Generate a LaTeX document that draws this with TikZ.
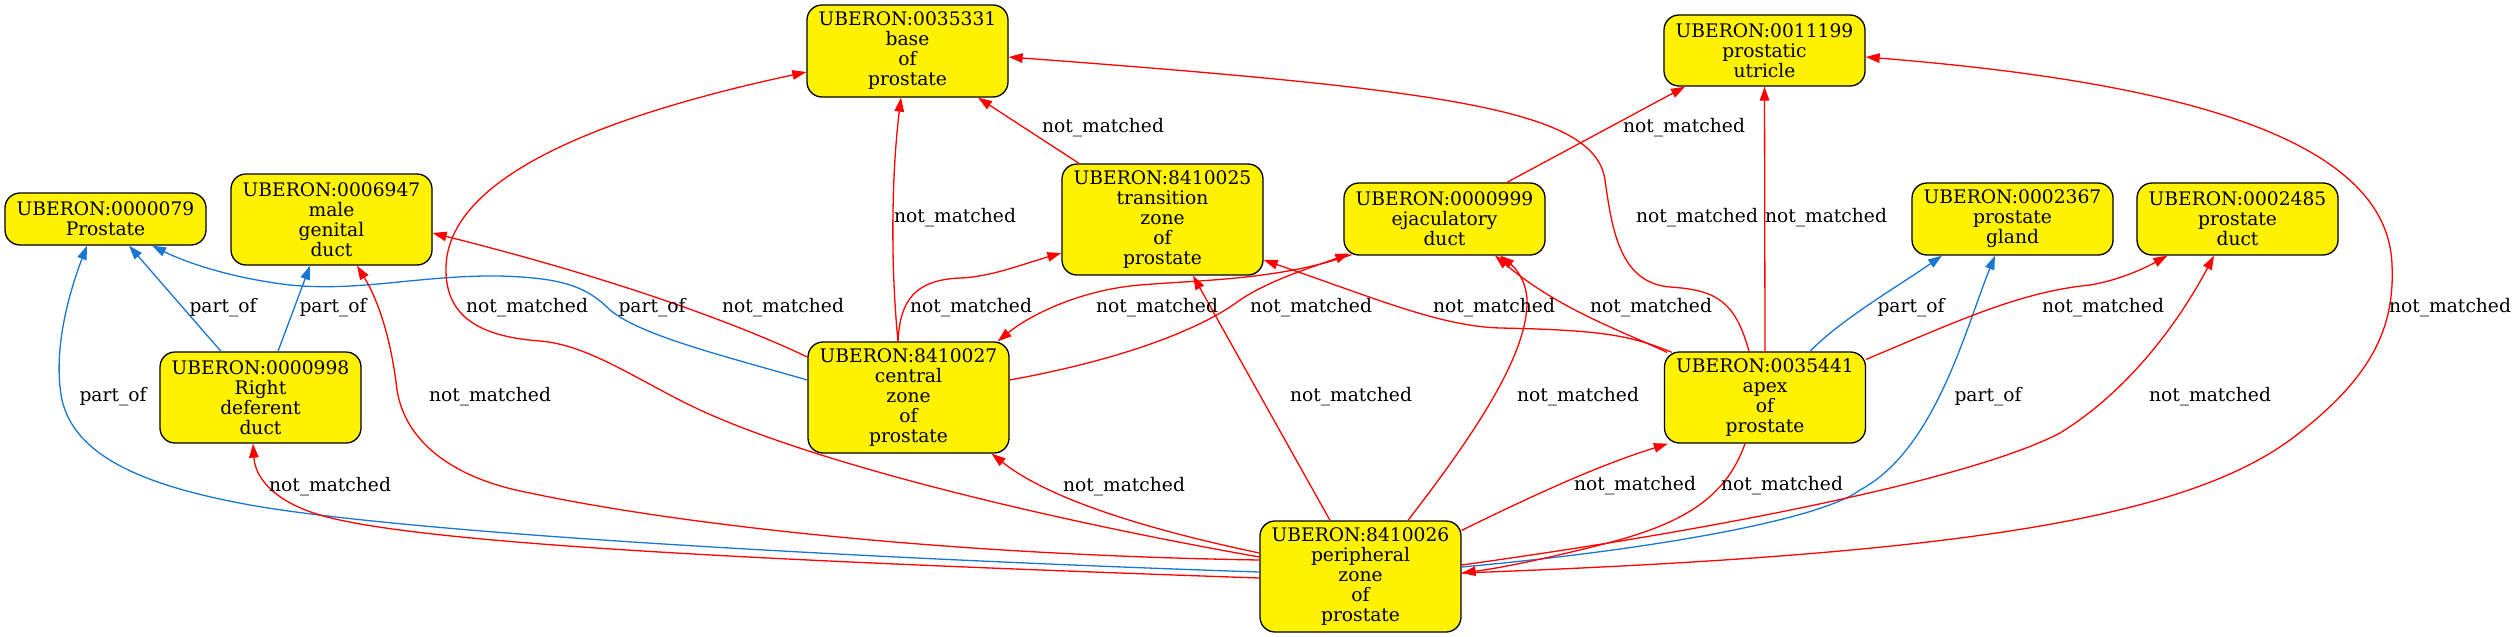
\documentclass[tikz,border=0pt]{standalone}
\usepackage{fontspec}
\setmainfont{DejaVu Serif}
\usetikzlibrary{arrows.meta}
\definecolor{edgeblue}{RGB}{25,118,210}
\begin{document}
\begin{tikzpicture}[x=1pt,y=-1pt,
  box/.style={draw=black, line width=1.3pt, fill=yellow, rounded corners=15pt,
    minimum width=201pt, align=center, inner sep=0pt,
    font=\fontsize{18.67}{20}\selectfont},
  lbl/.style={font=\fontsize{18.67}{20}\selectfont, inner sep=0pt},
  pedge/.style={draw=edgeblue, line width=1.3pt, -{Triangle[length=14pt,width=9.5pt]}},
  nedge/.style={draw=red, line width=1.3pt, -{Triangle[length=14pt,width=9.5pt]}}]
\useasboundingbox (0,0) rectangle (2517,637);

% nodes
\node[box, minimum height=52pt]  (n79)      at (105.5,219)   {UBERON:0000079\\Prostate};
\node[box, minimum height=91pt]  (n6947)    at (331.5,219.5) {UBERON:0006947\\male\\genital\\duct};
\node[box, minimum height=91pt]  (n998)     at (260.5,397.5) {UBERON:0000998\\Right\\deferent\\duct};
\node[box, minimum height=92pt]  (n35331)   at (907.5,51)    {UBERON:0035331\\base\\of\\prostate};
\node[box, minimum height=111pt] (n8410025) at (1162.5,219.5){UBERON:8410025\\transition\\zone\\of\\prostate};
\node[box, minimum height=72pt]  (n999)     at (1444.5,219)  {UBERON:0000999\\ejaculatory\\duct};
\node[box, minimum height=111pt] (n8410027) at (908.5,397.5) {UBERON:8410027\\central\\zone\\of\\prostate};
\node[box, minimum height=71pt]  (n11199)   at (1764.5,50.5) {UBERON:0011199\\prostatic\\utricle};
\node[box, minimum height=72pt]  (n2367)    at (2012.5,219)  {UBERON:0002367\\prostate\\gland};
\node[box, minimum height=72pt]  (n2485)    at (2237.5,219)  {UBERON:0002485\\prostate\\duct};
\node[box, minimum height=91pt]  (n35441)   at (1765,397.5)  {UBERON:0035441\\apex\\of\\prostate};
\node[box, minimum height=111pt] (n8410026) at (1360.5,576.5){UBERON:8410026\\peripheral\\zone\\of\\prostate};

% part_of edges
\draw[pedge] ([xshift=-39.5pt]n998.north) -- ([xshift=23.5pt]n79.south);
\draw[pedge] ([xshift=17.5pt]n998.north) -- ([xshift=-21.5pt]n6947.south);
\draw[pedge] ([yshift=17.5pt]n8410027.west) .. controls (720,355) and (640,335) .. (610,310)
  .. controls (585,285) and (560,278) .. (500,276) .. controls (420,275) and (360,292) .. (290,285)
  .. controls (230,278) and (185,262) .. ([xshift=46.5pt]n79.south);
\draw[pedge] ([yshift=4.5pt]n8410026.west) .. controls (900,560) and (420,535) .. (250,505)
  .. controls (140,485) and (75,455) .. (62,400) .. controls (52,350) and (70,290) .. ([xshift=-18.5pt]n79.south);
\draw[pedge] ([xshift=45pt]n35441.north) .. controls (1840,320) and (1900,285) .. ([xshift=-70.5pt]n2367.south);
\draw[pedge] ([yshift=9.5pt]n8410026.east) .. controls (1650,550) and (1820,520) .. (1860,490)
  .. controls (1935,450) and (1965,330) .. ([xshift=-17.5pt]n2367.south);

% not_matched edges
\draw[nedge] ([yshift=-1.5pt]n8410026.west) .. controls (800,562) and (420,545) .. (320,515)
  .. controls (270,500) and (255,475) .. ([xshift=-7.5pt]n998.south);
\draw[nedge] ([yshift=16.5pt]n8410026.west) .. controls (950,555) and (680,525) .. (530,493)
  .. controls (450,478) and (405,440) .. (397,390) .. controls (390,330) and (375,295) .. ([xshift=25.5pt]n6947.south);
\draw[nedge] ([yshift=40.5pt]n8410027.west) .. controls (740,325) and (620,280) .. ([yshift=-13.5pt]n6947.east);
\draw[nedge] ([yshift=19.5pt]n8410026.west) .. controls (1050,520) and (820,465) .. (700,410)
  .. controls (640,382) and (590,345) .. (540,341) .. controls (470,336) and (445,310) .. (446,267)
  .. controls (448,190) and (560,125) .. ([yshift=-21pt]n35331.west);
\draw[nedge] ([xshift=-10.5pt]n8410027.north) .. controls (890,260) and (892,170) .. ([xshift=-6.5pt]n35331.south);
\draw[nedge] ([xshift=-83.5pt]n8410025.north) -- ([xshift=70.5pt]n35331.south);
\draw[nedge] ([xshift=-16pt]n35441.north) .. controls (1735,300) and (1715,290) .. (1670,287)
  .. controls (1620,283) and (1612,230) .. (1605,180) .. controls (1595,110) and (1450,90) .. ([yshift=-6pt]n35331.east);
\draw[nedge] ([xshift=-10.5pt]n8410027.north) .. controls (900,300) and (915,280) .. (960,278)
  .. controls (990,277) and (1020,265) .. ([yshift=-33.5pt]n8410025.west);
\draw[nedge] ([xshift=-30.5pt]n8410026.north) -- ([xshift=30.5pt]n8410025.south);
\draw[nedge] ([xshift=8pt,yshift=-1pt]n35441.north west) .. controls (1630,335) and (1600,330) .. (1500,328)
  .. controls (1440,326) and (1380,300) .. ([yshift=-40.5pt]n8410025.east);
\draw[nedge] ([yshift=17.5pt]n8410027.east) .. controls (1120,360) and (1200,330) .. (1240,300)
  .. controls (1270,280) and (1310,268) .. ([xshift=6pt,yshift=2pt]n999.south west);
\draw[nedge] ([xshift=8pt,yshift=1pt]n999.south west) .. controls (1280,280) and (1200,280) .. (1140,285)
  .. controls (1080,290) and (1030,315) .. ([xshift=-12pt]n8410027.north east);
\draw[nedge] ([xshift=47.5pt]n8410026.north) .. controls (1470,440) and (1525,360) .. (1527,305)
  .. controls (1528,285) and (1518,270) .. ([xshift=55.5pt]n999.south);
\draw[nedge] ([xshift=3pt,yshift=-1pt]n35441.north west) .. controls (1620,330) and (1560,310) .. ([xshift=50.5pt]n999.south);
\draw[nedge] ([xshift=62.5pt]n999.north) -- ([xshift=-79.5pt]n11199.south);
\draw[nedge] (n35441.north) -- (n11199.south);
\draw[nedge] ([yshift=3.5pt]n8410026.east) .. controls (1950,555) and (2180,520) .. (2290,440)
  .. controls (2370,380) and (2395,330) .. (2392,265) .. controls (2388,130) and (2150,80) .. ([yshift=-6.5pt]n11199.east);
\draw[nedge] ([yshift=-8pt]n35441.north east) .. controls (1960,320) and (2020,292) .. (2090,285)
  .. controls (2120,280) and (2145,268) .. ([xshift=31pt]n2485.south west);
\draw[nedge] ([yshift=11.5pt]n8410026.east) .. controls (1750,525) and (1980,475) .. (2060,433)
  .. controls (2130,390) and (2180,320) .. ([xshift=-23.5pt]n2485.south);
\draw[nedge] ([yshift=-10pt]n8410026.north east) .. controls (1540,492) and (1600,465) .. ([xshift=4pt]n35441.south west);
\draw[nedge] ([xshift=-20pt]n35441.south) .. controls (1725,500) and (1680,525) .. (1600,545)
  .. controls (1540,560) and (1500,568) .. ([yshift=3.5pt]n8410026.east);
\draw[nedge] ([yshift=23.5pt]n8410026.west) .. controls (1150,530) and (1050,500) .. ([xshift=-18pt]n8410027.south east);

% labels
\node[lbl] (l1)  at (223,308)  {part\_of};
\node[lbl] (l2)  at (333,308)  {part\_of};
\node[lbl] (l3)  at (652,308)  {part\_of};
\node[lbl] (l4)  at (113,397)  {part\_of};
\node[lbl] (l5)  at (1911,308) {part\_of};
\node[lbl] (l6)  at (1988,397) {part\_of};
\node[lbl] (l7)  at (330,487)  {not\_matched};
\node[lbl] (l8)  at (490,397)  {not\_matched};
\node[lbl] (l9)  at (783,308)  {not\_matched};
\node[lbl] (l10) at (527,308)  {not\_matched};
\node[lbl] (l11) at (955,218)  {not\_matched};
\node[lbl] (l12) at (1103,128) {not\_matched};
\node[lbl] (l13) at (1697,218) {not\_matched};
\node[lbl] (l14) at (971,308)  {not\_matched};
\node[lbl] (l15) at (1351,397) {not\_matched};
\node[lbl] (l16) at (1494,308) {not\_matched};
\node[lbl] (l17) at (1311,308) {not\_matched};
\node[lbl] (l18) at (1157,308) {not\_matched};
\node[lbl] (l19) at (1578,397) {not\_matched};
\node[lbl] (l20) at (1651,308) {not\_matched};
\node[lbl] (l21) at (1684,128) {not\_matched};
\node[lbl] (l22) at (1826,218) {not\_matched};
\node[lbl] (l23) at (2450,308) {not\_matched};
\node[lbl] (l24) at (2103,308) {not\_matched};
\node[lbl] (l25) at (2210,397) {not\_matched};
\node[lbl] (l26) at (1635,486) {not\_matched};
\node[lbl] (l27) at (1782,486) {not\_matched};
\node[lbl] (l28) at (1124,487) {not\_matched};
\end{tikzpicture}
\end{document}
